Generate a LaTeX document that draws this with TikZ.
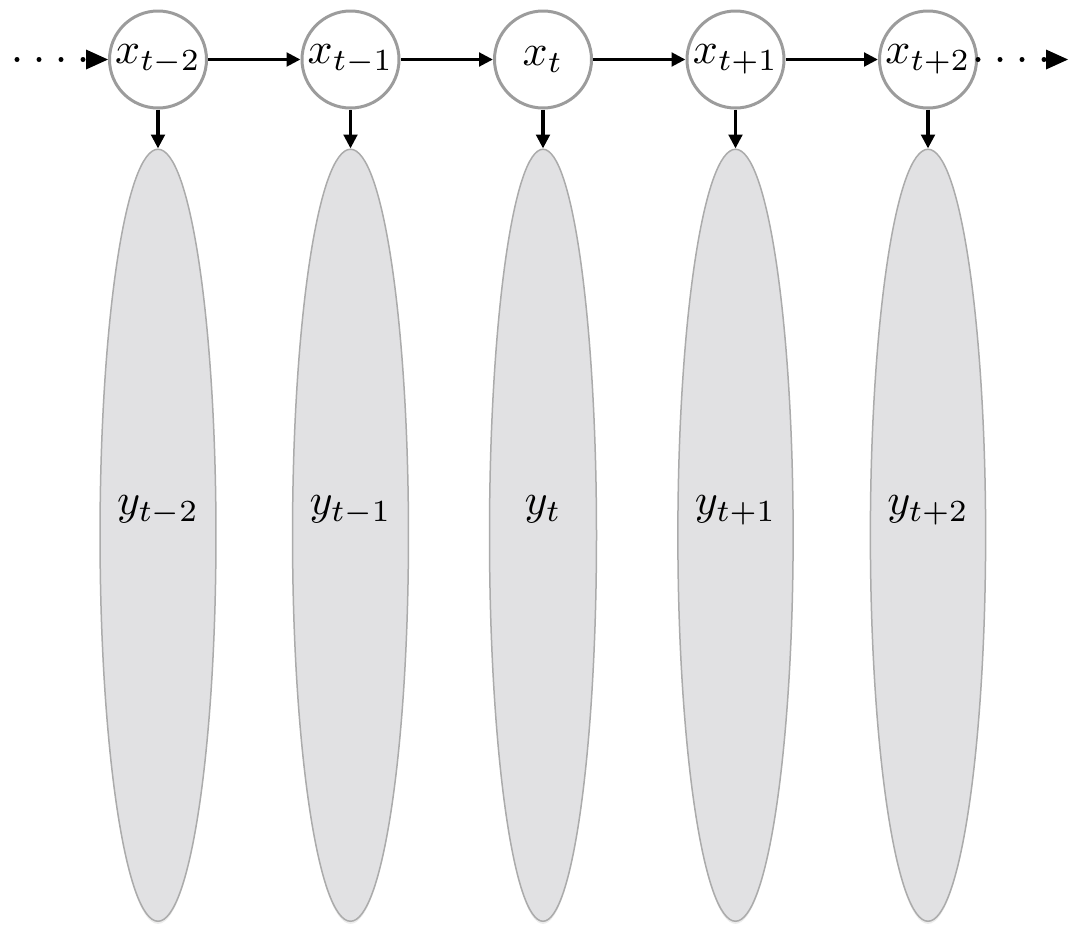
\documentclass[tikz,border=0pt]{standalone}
\usepackage{amsmath,amssymb}
\usepackage{graphicx}
\usepackage{xcolor}
\usepackage{tikz}
\usetikzlibrary{shapes.geometric, arrows.meta, positioning, shadows}
\definecolor{ringgray}{HTML}{9C9C9C}
\definecolor{obsfill}{HTML}{E1E1E3}
\definecolor{obsline}{HTML}{ABABAB}
\tikzstyle{hidden} = [circle, minimum size=1.94cm, inner sep=0pt, line width=0.06cm, draw=ringgray, fill=white]
\tikzstyle{observed} = [ellipse, minimum width=2.14cm, minimum height=15.44cm, inner sep=0pt, line width=0.03cm, draw=obsline, fill=obsfill, drop shadow={opacity=0.15, shadow xshift=0pt, shadow yshift=-1.5pt}]
\tikzstyle{arrow} = [line width=0.075cm, -{Triangle[length=0.28cm, width=0.27cm]}]
\tikzstyle{dots} = [line width=0.1cm, line cap=round, dash pattern=on 0pt off 0.44cm, -{Triangle[length=0.44cm, width=0.4cm, line width=0pt]}]
\newcommand{\hidlabel}[1]{\scalebox{2.5}{$#1$}}
\newcommand{\obslabel}[1]{\raisebox{1.2cm}{\scalebox{2.5}{$#1$}}}

\begin{document}
\begin{tikzpicture}
    \useasboundingbox (0,0) rectangle (21.38,-18.58);
    % Define hidden states
    \node (x1) [hidden] at (3.16,-1.19) {\hidlabel{x_{t-2}}};
    \node (x2) [hidden, right=1.85cm of x1] {\hidlabel{x_{t-1}}};
    \node (x3) [hidden, right=1.85cm of x2] {\hidlabel{x_{t}}};
    \node (x4) [hidden, right=1.85cm of x3] {\hidlabel{x_{t+1}}};
    \node (x5) [hidden, right=1.85cm of x4] {\hidlabel{x_{t+2}}};
    % Define observations
    \node (y1) [observed, below=0.78cm of x1] {\obslabel{y_{t-2}}};
    \node (y2) [observed, below=0.78cm of x2] {\obslabel{y_{t-1}}};
    \node (y3) [observed, below=0.78cm of x3] {\obslabel{y_{t}}};
    \node (y4) [observed, below=0.78cm of x4] {\obslabel{y_{t+1}}};
    \node (y5) [observed, below=0.78cm of x5] {\obslabel{y_{t+2}}};
    \coordinate (lstart) at (0.34,-1.19);
    \coordinate (rend) at (21.36,-1.19);

    % Draw arrows
    \draw [dots] (lstart) -- (x1.west);
    \draw [arrow] (x1) -- (x2);
    \draw [arrow] (x2) -- (x3);
    \draw [arrow] (x3) -- (x4);
    \draw [arrow] (x4) -- (x5);
    \draw [dots] (x5.east) -- (rend);
    \draw [arrow] (x1) -- (y1);
    \draw [arrow] (x2) -- (y2);
    \draw [arrow] (x3) -- (y3);
    \draw [arrow] (x4) -- (y4);
    \draw [arrow] (x5) -- (y5);
\end{tikzpicture}
\end{document}
